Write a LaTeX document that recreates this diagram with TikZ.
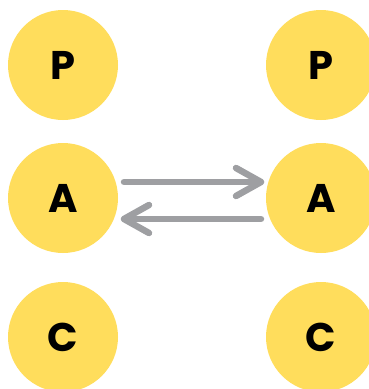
\documentclass[tikz,border=0pt]{standalone}
\usepackage{fontspec}
\usetikzlibrary{calc}
\setmainfont{Poppins}[BoldFont={* Bold}]
\definecolor{ylw}{HTML}{FFDD5C}
\definecolor{arr}{HTML}{9E9FA2}
\begin{document}
\begin{tikzpicture}[x=1pt,y=-1pt,
  ball/.style={circle,fill=ylw,minimum size=110pt,inner sep=0pt,font=\fontsize{40}{40}\selectfont\bfseries},
  arrline/.style={draw=arr,line width=6.5pt,line cap=round,line join=round}]
\useasboundingbox (0,0) rectangle (368,389);
\node[ball] (p1) at (63,65) {P};
\node[ball] (a1) at (63,198) {A};
\node[ball] (c1) at (63,337) {C};
\node[ball] (p2) at (321,65) {P};
\node[ball] (a2) at (321,198) {A};
\node[ball] (c2) at (321,337) {C};
\coordinate (u1) at (124,182);
\coordinate (u2) at (261,182);
\coordinate (l1) at (261,219);
\coordinate (l2) at (124,219);
\draw[arrline] (u1) -- (u2);
\draw[arrline] ($(u2)+(-25,-14)$) -- (u2) -- ($(u2)+(-25,14)$);
\draw[arrline] (l1) -- (l2);
\draw[arrline] ($(l2)+(25,-14)$) -- (l2) -- ($(l2)+(25,14)$);
\end{tikzpicture}
\end{document}
